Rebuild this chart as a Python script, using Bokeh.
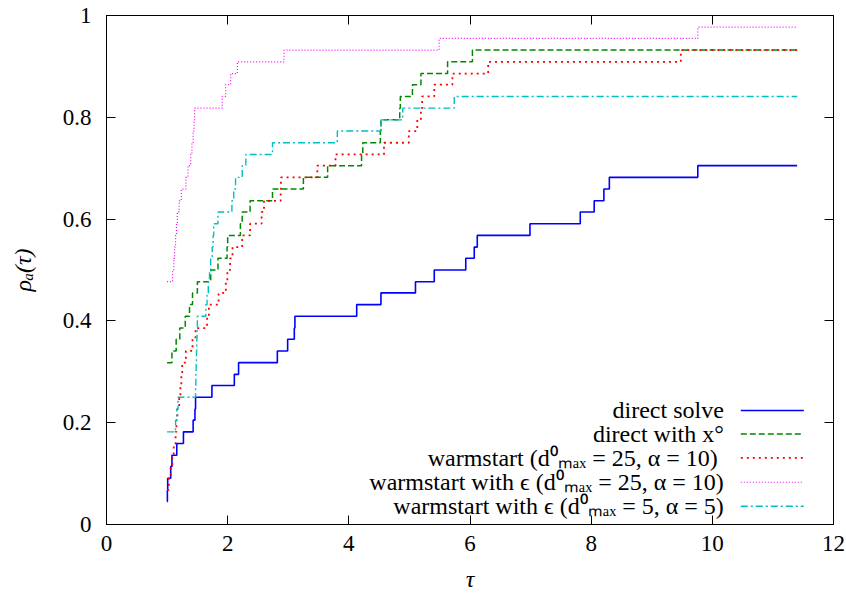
from bokeh.plotting import figure
from bokeh.models import (FixedTicker, CustomJSTickFormatter, LinearAxis, Label,
                          Arrow, Range1d, InlineStyleSheet)
from bokeh.embed import file_html
from bokeh.resources import INLINE

# ---------------- data ----------------
tau_direct = [1.0, 1.005, 1.01, 1.06, 1.08, 1.16, 1.27, 1.43, 1.46, 1.47, 1.74, 2.11,
              2.18, 2.82, 2.99, 3.10, 3.11, 4.13, 4.53, 5.10, 5.41, 5.93, 6.07, 6.12,
              6.99, 7.82, 8.05, 8.21, 8.30, 9.76, 11.4]
rho_direct = [0.045, 0.068, 0.091, 0.114, 0.136, 0.159, 0.182, 0.205, 0.227, 0.250,
              0.273, 0.295, 0.318, 0.341, 0.364, 0.386, 0.409, 0.432, 0.455, 0.477,
              0.500, 0.523, 0.545, 0.568, 0.591, 0.614, 0.636, 0.659, 0.682, 0.705, 0.705]

tau_xcirc = [1.0, 1.08, 1.15, 1.21, 1.30, 1.37, 1.42, 1.50, 1.72, 1.84, 1.99, 2.00,
             2.21, 2.24, 2.37, 2.74, 3.25, 3.65, 4.21, 4.23, 4.52, 4.53, 4.84, 4.85,
             5.05, 5.19, 5.63, 6.04, 11.4]
rho_xcirc = [0.318, 0.341, 0.364, 0.386, 0.409, 0.432, 0.455, 0.477, 0.500, 0.523,
             0.545, 0.568, 0.591, 0.614, 0.636, 0.659, 0.682, 0.705, 0.727, 0.750,
             0.773, 0.795, 0.818, 0.841, 0.864, 0.886, 0.909, 0.932, 0.932]

tau_warm = [1.0, 1.03, 1.06, 1.086, 1.11, 1.14, 1.155, 1.17, 1.20, 1.22, 1.235, 1.25,
            1.31, 1.42, 1.47, 1.66, 1.69, 1.85, 1.97, 1.995, 2.04, 2.08, 2.24, 2.37,
            2.56, 2.60, 2.875, 2.88, 3.48, 3.78, 4.58, 4.99, 5.13, 5.19, 5.21, 5.41,
            5.71, 6.30, 9.48, 11.4]
rho_warm = [0.068, 0.091, 0.114, 0.136, 0.159, 0.182, 0.205, 0.227, 0.250, 0.273,
            0.295, 0.318, 0.341, 0.364, 0.386, 0.409, 0.432, 0.455, 0.477, 0.500,
            0.523, 0.545, 0.568, 0.591, 0.614, 0.636, 0.659, 0.682, 0.705, 0.727,
            0.750, 0.773, 0.795, 0.818, 0.841, 0.864, 0.886, 0.909, 0.932, 0.932]

tau_eps25 = [1.0, 1.09, 1.11, 1.125, 1.14, 1.155, 1.17, 1.20, 1.235, 1.31, 1.345, 1.39,
             1.41, 1.43, 1.445, 1.455, 1.91, 1.967, 2.05, 2.16, 2.93, 5.49, 9.76, 11.4]
rho_eps25 = [0.477, 0.500, 0.523, 0.545, 0.568, 0.591, 0.614, 0.636, 0.659, 0.682,
             0.705, 0.727, 0.750, 0.773, 0.795, 0.818, 0.841, 0.864, 0.886, 0.909,
             0.932, 0.955, 0.977, 0.977]

tau_eps5 = [1.0, 1.14, 1.16, 1.18, 1.47, 1.475, 1.48, 1.485, 1.49, 1.495, 1.50, 1.64,
            1.66, 1.68, 1.70, 1.72, 1.745, 1.76, 1.77, 1.84, 2.07, 2.10, 2.13, 2.24,
            2.30, 2.74, 3.81, 4.53, 4.89, 5.74, 11.4]
rho_eps5 = [0.182, 0.205, 0.227, 0.250, 0.273, 0.295, 0.318, 0.341, 0.364, 0.386,
            0.409, 0.432, 0.455, 0.477, 0.500, 0.523, 0.545, 0.568, 0.591, 0.614,
            0.636, 0.659, 0.682, 0.705, 0.727, 0.750, 0.773, 0.795, 0.818, 0.841, 0.841]

series_labels = ["direct solve",
                 "direct with x\u00b0",
                 "warmstart  (d\u2070\u2098\u2090\u2093 = 25, \u03b1 = 10)",
                 "warmstart with \u03f5 (d\u2070\u2098\u2090\u2093 = 25, \u03b1 = 10)",
                 "warmstart with \u03f5 (d\u2070\u2098\u2090\u2093 = 5, \u03b1 = 5)"]

x_ticks = [0, 2, 4, 6, 8, 10, 12]
y_ticks = [0, 0.2, 0.4, 0.6, 0.8, 1.0]

# ---------------- styles ----------------
FONT = "Liberation Serif"
FS_TICK = "23px"
FS_KEY = "24px"
styles = [
    dict(color="#0000ff", line_width=1.6, line_dash="solid"),
    dict(color="#008800", line_width=1.5, line_dash="6 3"),
    dict(color="#ff0000", line_width=1.8, line_dash="2 4"),
    dict(color="#ff00ff", line_width=1.2, line_dash="1 2"),
    dict(color="#00c0c0", line_width=1.4, line_dash="7 3 2 3"),
]

p = figure(width=846, height=596, x_range=Range1d(0, 12), y_range=Range1d(0, 1),
           output_backend="svg", toolbar_location=None,
           min_border_left=106, min_border_right=13, min_border_top=15,
           min_border_bottom=72)
p.stylesheets = [InlineStyleSheet(css=":host { font-family: 'Liberation Serif', serif; } "
                                      "svg text { font-family: 'Liberation Serif', serif !important; }")]
p.grid.visible = False
p.outline_line_color = "black"
p.outline_line_width = 1

for ax in (p.xaxis[0], p.yaxis[0]):
    ax.major_tick_in = 9
    ax.major_tick_out = 0
    ax.minor_tick_line_color = None
    ax.axis_line_color = "black"
    ax.major_tick_line_color = "black"
    ax.major_label_text_font = FONT
    ax.major_label_text_font_size = FS_TICK
    ax.major_label_text_color = "black"
    ax.axis_label_text_font = FONT
    ax.axis_label_text_font_size = FS_KEY
    ax.axis_label_text_color = "black"

p.xaxis[0].ticker = FixedTicker(ticks=x_ticks)
p.yaxis[0].ticker = FixedTicker(ticks=y_ticks)
p.yaxis[0].formatter = CustomJSTickFormatter(code="return (Math.round(tick*10)/10).toString();")
p.xaxis[0].major_label_standoff = 11
p.yaxis[0].major_label_standoff = 15
p.xaxis[0].axis_label = "\u03c4"
p.yaxis[0].axis_label = "\u03c1\u2090(\u03c4)"
p.xaxis[0].axis_label_standoff = 12
p.yaxis[0].axis_label_standoff = 24

# mirrored ticks on top and right (their labels are not drawn)
for loc, tk in (("above", x_ticks), ("right", y_ticks)):
    ax = LinearAxis(ticker=FixedTicker(ticks=tk),
                    major_label_text_font=FONT, major_label_text_font_size="6px",
                    major_label_text_color=None, major_label_standoff=0,
                    major_tick_in=9, major_tick_out=0, minor_tick_line_color=None,
                    axis_line_color=None, major_tick_line_color="black")
    p.add_layout(ax, loc)

series = [(tau_direct, rho_direct), (tau_xcirc, rho_xcirc), (tau_warm, rho_warm),
          (tau_eps25, rho_eps25), (tau_eps5, rho_eps5)]
for (tx, ry), st in zip(series, styles):
    p.step(tx, ry, mode="after", line_color=st["color"], line_width=st["line_width"],
           line_dash=st["line_dash"])

# gnuplot-style key: text on the left (right-aligned), sample on the right
key_text_x = 10.19
key_x0, key_x1 = 10.47, 11.51
key_rows = [0.224, 0.178, 0.131, 0.083, 0.036]
for lab, yy, st in zip(series_labels, key_rows, styles):
    p.add_layout(Label(x=key_text_x, y=yy, text=lab, text_align="right",
                       text_baseline="middle", text_font=FONT, text_font_size=FS_KEY,
                       text_color="black"))
    p.add_layout(Arrow(end=None, x_start=key_x0, y_start=yy, x_end=key_x1, y_end=yy,
                       line_color=st["color"], line_width=st["line_width"],
                       line_dash=st["line_dash"]))

open("out.html", "w").write(file_html(p, INLINE))
